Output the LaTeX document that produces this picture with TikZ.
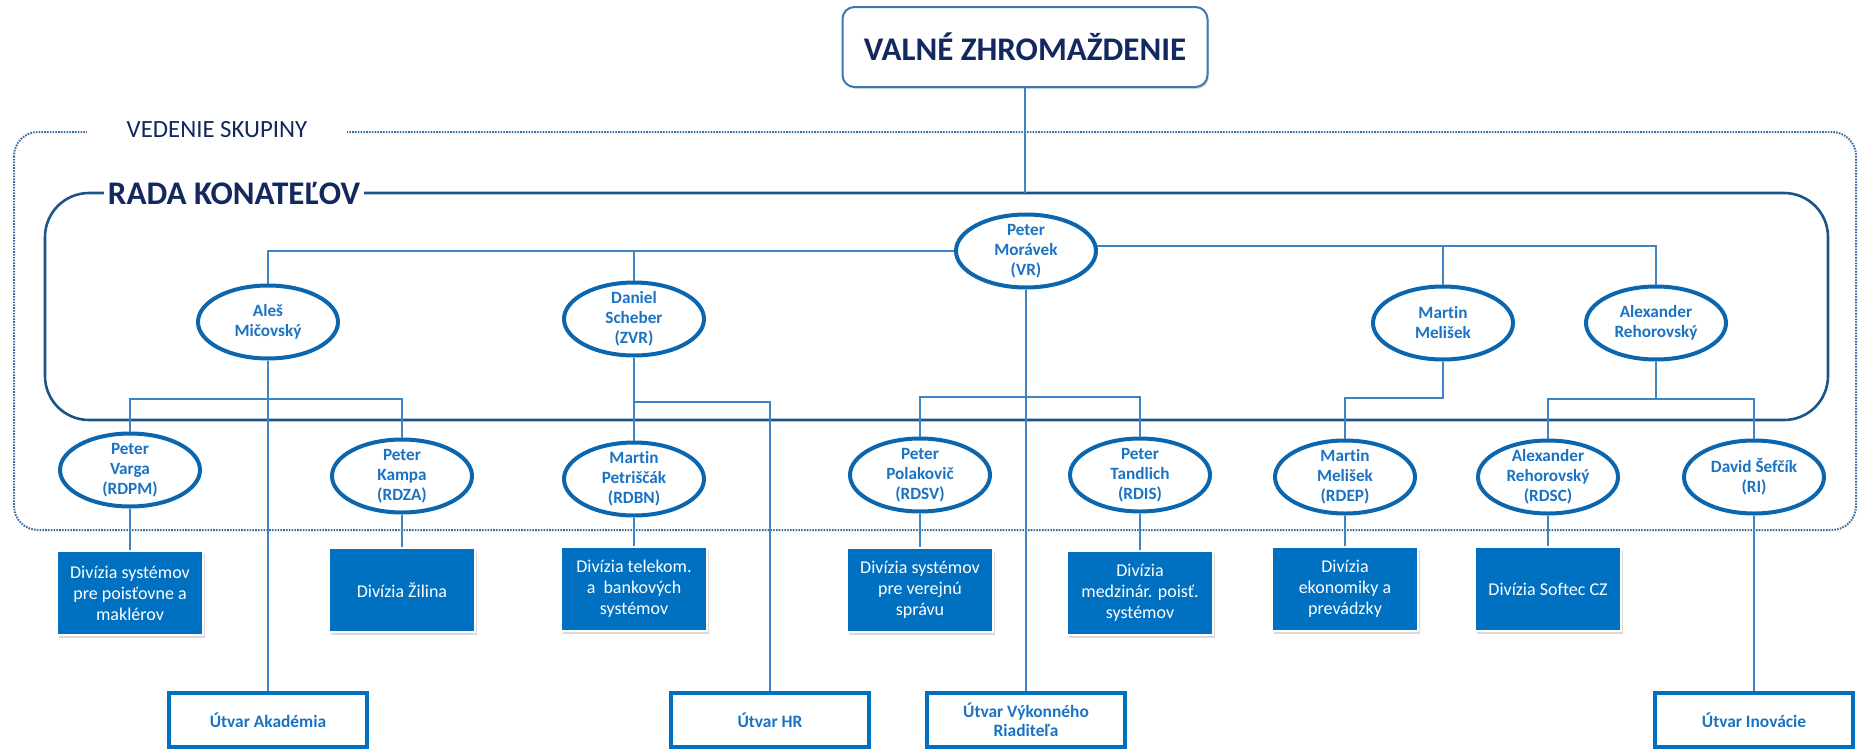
\documentclass[tikz,border=0pt]{standalone}
\usepackage{fontspec}
\setmainfont{Carlito}[Ligatures=NoCommon]
\usetikzlibrary{shapes.geometric,shadows}
\definecolor{navy}{HTML}{12285E}
\definecolor{ellblue}{HTML}{0C66AE}
\definecolor{elltext}{HTML}{1A73C2}
\definecolor{boxblue}{HTML}{0070C0}
\definecolor{linkblue}{HTML}{3C86C8}
\definecolor{frameblue}{HTML}{1D5487}
\definecolor{dotblue}{HTML}{3A6C9F}
\definecolor{vzblue}{HTML}{3B78B8}
\begin{document}
\begin{tikzpicture}[x=0.5pt,y=-0.5pt]
        \tikzstyle{person}=[ellipse, draw=ellblue, line width=2pt, fill=white, text=elltext, align=center, font=\bfseries\fontsize{8.6}{10}\selectfont, inner sep=0pt, inner ysep=-2pt, minimum width=70pt, minimum height=36.5pt]
        \tikzstyle{divbox}=[rectangle, draw=white, line width=1.2pt, fill=boxblue, text=white, align=center, font=\fontsize{9}{10.5}\selectfont, minimum width=73pt, minimum height=42pt, drop shadow={opacity=0.3, shadow xshift=1pt, shadow yshift=-1.5pt}]
        \tikzstyle{utvar}=[rectangle, draw=boxblue, line width=1.8pt, fill=white, text=elltext, align=center, font=\bfseries\fontsize{8.7}{9.5}\selectfont, minimum width=99pt, minimum height=27pt, inner sep=1pt]
        \tikzstyle{link}=[draw=linkblue, line width=0.7pt]
        \tikzstyle{title}=[fill=white, text=navy, font=\bfseries\fontsize{16.5}{19}\selectfont]

        \useasboundingbox (0,0) rectangle (1859,750);
        \draw[dotblue, line width=1pt, dash pattern=on 0.8pt off 0.6pt, rounded corners=12pt] (14,132) rectangle (1856,530);
        \node[fill=white, text=navy, font=\fontsize{12.4}{14}\selectfont, inner xsep=20pt] (vedenie) at (217,130) {VEDENIE SKUPINY};
        \draw[frameblue, line width=1.3pt, rounded corners=22pt] (45,193) rectangle (1828,420);
        \node[title, inner xsep=2pt, inner ysep=1pt] (rada) at (234,193) {RADA KONATEĽOV};

        \node[title, draw=vzblue, line width=1pt, rounded corners=6pt, minimum width=182.5pt, minimum height=40pt, drop shadow={opacity=0.25, shadow xshift=0.8pt, shadow yshift=-1pt}] (vz) at (1025,47) {VALNÉ ZHROMAŽDENIE};
        \coordinate (radatop) at (1025,193);
        \draw[link] (vz) -- (radatop);

        \node[person] (moravek) at (1026,251) {Peter\\Morávek\\(VR)};
        \node[person] (ales) at (268,322) {Aleš\\Mičovský};
        \node[person] (daniel) at (634,319) {Daniel\\Scheber\\(ZVR)};
        \node[person] (melisek) at (1443,323) {Martin\\Melišek};
        \node[person] (rehor) at (1656,323) {Alexander\\Rehorovský};

        \node[person] (varga) at (130,470) {Peter\\Varga\\(RDPM)};
        \node[person] (kampa) at (402,476) {Peter\\Kampa\\(RDZA)};
        \node[person] (petriscak) at (634,479) {Martin\\Petriščák\\(RDBN)};
        \node[person] (polak) at (920,475) {Peter\\Polakovič\\(RDSV)};
        \node[person] (tandlich) at (1140,475) {Peter\\Tandlich\\(RDIS)};
        \node[person] (melisek2) at (1345,477) {Martin\\Melišek\\(RDEP)};
        \node[person] (rehsc) at (1548,477) {Alexander\\Rehorovský\\(RDSC)};
        \node[person] (sefcik) at (1754,477) {David Šefčík\\(RI)};

        \node[divbox] (divpm) at (130,593) {Divízia systémov\\pre poisťovne a\\maklérov};
        \node[divbox] (divza) at (402,590) {Divízia Žilina};
        \node[divbox] (divbn) at (634,589) {Divízia telekom.\\a\ \ bankových\\systémov};
        \node[divbox] (divsv) at (920,590) {Divízia systémov\\pre verejnú\\správu};
        \node[divbox] (divis) at (1140,593) {Divízia\\medzinár. poisť.\\systémov};
        \node[divbox] (divep) at (1345,589) {Divízia\\ekonomiky a\\prevádzky};
        \node[divbox] (divsc) at (1548,589) {Divízia Softec CZ};

        \node[utvar] (akademia) at (268,720) {Útvar Akadémia};
        \node[utvar] (hr) at (770,720) {Útvar HR};
        \node[utvar] (vykonny) at (1026,720) {Útvar Výkonného\\Riaditeľa};
        \node[utvar] (inovacie) at (1754,720) {Útvar Inovácie};

        \draw[link] (moravek.west) -| (ales.north);
        \draw[link] (daniel.north) -- (daniel.north |- moravek.west);
        \draw[link] (moravek.4) -| (rehor.north);
        \draw[link] (melisek.north) -- (melisek.north |- moravek.4);

        \coordinate (alesbr) at (268,399);
        \coordinate (danbr) at (634,402);
        \coordinate (morbr) at (1026,397);
        \coordinate (melbr) at (1443,398);
        \coordinate (rehbr) at (1656,399);
        \draw[link] (ales.south) -- (akademia.north);
        \draw[link] (varga.north) |- (alesbr) -| (kampa.north);
        \draw[link] (daniel.south) -- (petriscak.north);
        \draw[link] (danbr) -| (hr.north);
        \draw[link] (moravek.south) -- (vykonny.north);
        \draw[link] (polak.north) |- (morbr) -| (tandlich.north);
        \draw[link] (melisek.south) -- (melbr) -| (melisek2.north);
        \draw[link] (rehor.south) -- (rehbr);
        \draw[link] (rehsc.north) |- (rehbr) -| (sefcik.north);
        \draw[link] (sefcik.south) -- (inovacie.north);
        \foreach \a/\b in {varga/divpm, kampa/divza, petriscak/divbn, polak/divsv, tandlich/divis, melisek2/divep, rehsc/divsc}
            \draw[link] (\a.south) -- (\b.north);
\end{tikzpicture}
\end{document}
